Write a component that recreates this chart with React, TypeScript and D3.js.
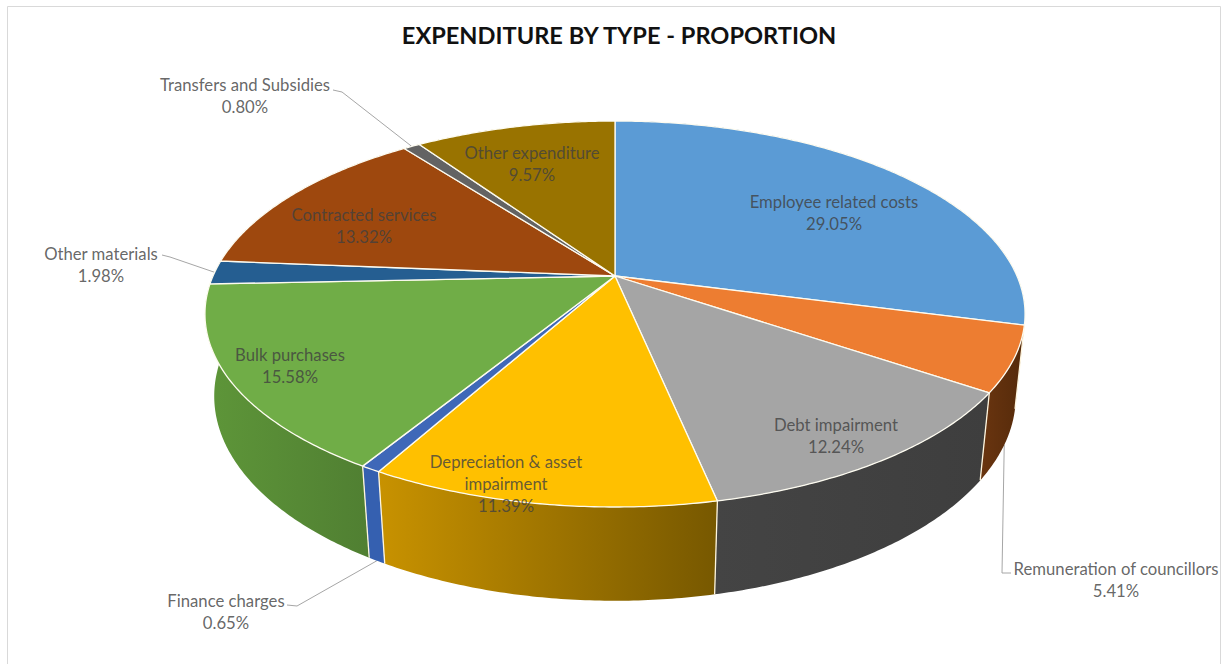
import React from "react";
import * as d3 from "d3";

const title = "EXPENDITURE BY TYPE - PROPORTION";
const categories = [
  "Employee related costs",
  "Remuneration of councillors",
  "Debt impairment",
  "Depreciation & asset impairment",
  "Finance charges",
  "Bulk purchases",
  "Other materials",
  "Contracted services",
  "Transfers and Subsidies",
  "Other expenditure",
];
const shares = [29.05, 5.41, 12.24, 11.39, 0.65, 15.58, 1.98, 13.32, 0.8, 9.57];
const topColors = ["#5B9BD5", "#ED7D31", "#A5A5A5", "#FFC000", "#3F68B8", "#70AD47", "#255E91", "#9E480E", "#636363", "#997300"];
const wallLeft = ["#3f6f9c", "#6a3510", "#444444", "#C89200", "#3560B0", "#5E9639", "#1b4469", "#6f320a", "#444444", "#6b5000"];
const wallRight = ["#3f6f9c", "#552a0a", "#3e3e3e", "#775800", "#3560B0", "#507F32", "#1b4469", "#6f320a", "#444444", "#6b5000"];

// Label placement, in chart pixels; each row is [centre x, first baseline].
const labelLines = [
  ["Employee related costs"],
  ["Remuneration of councillors"],
  ["Debt impairment"],
  ["Depreciation & asset", "impairment"],
  ["Finance charges"],
  ["Bulk purchases"],
  ["Other materials"],
  ["Contracted services"],
  ["Transfers and Subsidies"],
  ["Other expenditure"],
];
const labelAt: [number, number][] = [
  [834, 208], [1116, 575], [836, 431], [506, 468], [226, 607],
  [290, 361], [101, 260], [364, 221], [245, 91], [532, 159],
];

// Perspective view of the disc: unit-circle (u, v) to the screen, with
// `drop` moving the point from the top rim to the bottom rim.
const view = { cx: 615, cy: 276, a: 402, c: 185.5, b: 0.197, h: 82.5, e: 0.0222 };
const project = (angle: number, drop: number): [number, number] => {
  const u = Math.sin(angle);
  const v = -Math.cos(angle);
  const w = 1 - view.b * v + drop * view.e;
  return [view.cx + (view.a * u) / w, view.cy + (view.c * v + drop * view.h) / w];
};

const arcs = d3.pie<number>().sort(null).value((d) => d)(shares);
const line = d3.line();
const samples = (a0: number, a1: number) => {
  const n = Math.max(2, Math.ceil((a1 - a0) / 0.01));
  return d3.range(n + 1).map((i) => a0 + ((a1 - a0) * i) / n);
};

type Leader = { from: [number, number]; elbow: [number, number]; drop: number };
const leaders: Record<number, Leader> = {
  1: { from: [1011, 573], elbow: [1002, 573], drop: 1 },
  4: { from: [287, 605], elbow: [297, 606], drop: 1 },
  6: { from: [162, 255], elbow: [170, 257], drop: 0 },
  8: { from: [333, 90], elbow: [342, 92], drop: 0 },
};

const font = "Lato, 'Open Sans', sans-serif";

export default function App() {
  return (
    <svg width={1223} height={664} style={{ position: "absolute", left: 0, top: 0, background: "#fff" }}>
      <defs>
        {arcs.map((_, i) => (
          <linearGradient key={i} id={`wall-${i}`} x1="0" x2="1" y1="0" y2="0">
            <stop offset="0" stopColor={wallLeft[i]} />
            <stop offset="1" stopColor={wallRight[i]} />
          </linearGradient>
        ))}
      </defs>

      <path d="M7.5 664V6.5H1220.5V664" fill="none" stroke="#d9d9d9" strokeWidth={1} />

      <text x={619} y={43.5} textAnchor="middle" fontFamily={font} fontWeight={700} fontSize={23.6} fill="#111">
        {title}
      </text>

      {/* Leader lines run behind the disc, so they are painted before it */}
      {arcs.map((d, i) => {
        const l = leaders[i];
        if (!l) return null;
        const end = project((d.startAngle + d.endAngle) / 2, l.drop);
        return <path key={i} d={line([l.from, l.elbow, end]) ?? ""} fill="none" stroke="#a6a6a6" strokeWidth={1} />;
      })}

      {/* Outer wall of the disc, painted first so the top face covers its far side */}
      {arcs.map((d, i) => {
        const angles = samples(d.startAngle, d.endAngle);
        const pts = [
          ...angles.map((t) => project(t, 0)),
          ...angles.slice().reverse().map((t) => project(t, 1)),
        ];
        return <path key={i} d={line(pts) + "Z"} fill={`url(#wall-${i})`} />;
      })}
      {arcs.map((d, i) => {
        const a = d.startAngle;
        if (a < Math.PI / 2 || a > (3 * Math.PI) / 2) return null;
        return <path key={i} d={line([project(a, 0), project(a, 1)]) ?? ""} stroke="#fff6e0" strokeWidth={1.3} fill="none" />;
      })}

      {/* Top face */}
      {arcs.map((d, i) => {
        const rim = samples(d.startAngle, d.endAngle).map((t) => project(t, 0));
        const pts: [number, number][] = [[view.cx, view.cy], ...rim];
        return <path key={i} d={line(pts) + "Z"} fill={topColors[i]} stroke="#fdfbf0" strokeWidth={1.3} strokeLinejoin="round" />;
      })}

      {categories.map((name, i) => {
        const [x, y] = labelAt[i];
        const rows = [...labelLines[i], `${shares[i].toFixed(2)}%`];
        return (
          <text key={name} textAnchor="middle" fontFamily={font} fontSize={16.7} fill="#404040" fillOpacity={0.8}>
            {rows.map((r, j) => (
              <tspan key={j} x={x} y={y + j * 22}>{r}</tspan>
            ))}
          </text>
        );
      })}
    </svg>
  );
}
